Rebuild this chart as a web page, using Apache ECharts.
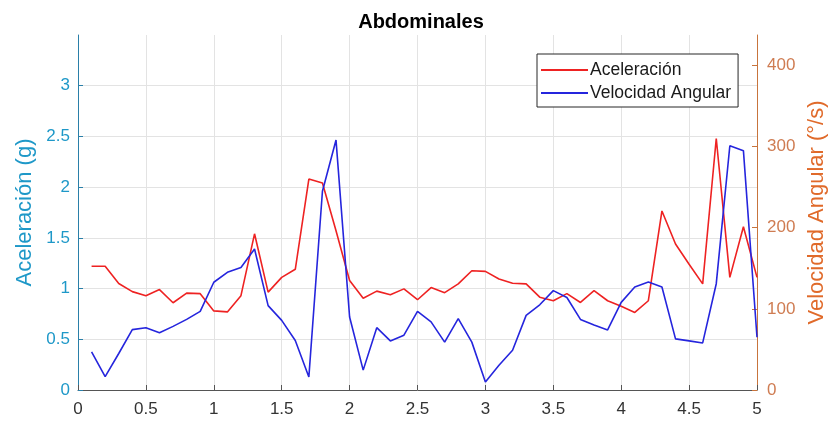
<!DOCTYPE html>
<html>
<head>
<meta charset="utf-8">
<script src="https://cdn.jsdelivr.net/npm/echarts@6/dist/echarts.min.js"></script>
<style>
html,body{margin:0;padding:0;background:#fff;}
#chart{width:835px;height:425px;}
</style>
</head>
<body>
<div id="chart"></div>
<script>
// Time (s)
var tiempo = [0.1,0.2,0.3,0.4,0.5,0.6,0.7,0.8,0.9,1.0,
              1.1,1.2,1.3,1.4,1.5,1.6,1.7,1.8,1.9,2.0,
              2.1,2.2,2.3,2.4,2.5,2.6,2.7,2.8,2.9,3.0,
              3.1,3.2,3.3,3.4,3.5,3.6,3.7,3.8,3.9,4.0,
              4.1,4.2,4.3,4.4,4.5,4.6,4.7,4.8,4.9,5.0];
// Aceleración (g)
var aceleracion = [1.22,1.22,1.05,0.97,0.93,0.99,0.86,0.955,0.95,0.78,
                   0.77,0.93,1.54,0.965,1.11,1.19,2.08,2.04,1.57,1.08,
                   0.905,0.975,0.94,0.997,0.89,1.01,0.96,1.046,1.176,1.17,
                   1.095,1.052,1.046,0.915,0.88,0.95,0.863,0.98,0.88,0.825,
                   0.765,0.88,1.765,1.44,1.24,1.046,2.48,1.11,1.61,1.11];
// Velocidad Angular (°/s)
var velocidad = [47,16.4,45,74.4,76.8,70.6,78.4,87,96.9,132.8,
                 145,151,173.8,104,85.8,61,16,245,308,90,
                 24.5,76.8,60.5,67.5,97,84,59,88,59,10,
                 30.6,49,92,105,122.5,114,87,80,74,108,
                 127,133,127,63,60.5,58,131,301,295,65];

var leftTicks = {min:0, max:3.5, interval:0.5};
var rightTicks = {min:0, max:437.5, interval:100};
var xTicks = {min:0, max:5, interval:0.5};

function pairs(xs, ys){ return xs.map(function(x,i){return [x, ys[i]];}); }

var font = "'Liberation Sans', Arial, Helvetica, sans-serif";
var leftText = '#1e98c8';
var leftLine = '#2a7fa8';
var rightName = '#e06a2a';
var rightText = '#cf7c52';
var rightLine = '#c8743c';

var chart = echarts.init(document.getElementById('chart'), null, {renderer:'canvas'});
chart.setOption({
  animation:false,
  backgroundColor:'#ffffff',
  title:{
    text:'Abdominales', left:416, top:7, textAlign:'center',
    textStyle:{fontFamily:font, fontSize:20, fontWeight:'bold', color:'#000'}
  },
  legend:{
    left:537, top:54, orient:'vertical',
    backgroundColor:'#fff', borderColor:'#262626', borderWidth:1,
    padding:[7,7,5,4], itemGap:5,
    itemWidth:47, itemHeight:2,
    textStyle:{fontFamily:font, fontSize:17.5, lineHeight:18, color:'#1a1a1a', padding:[0,0,0,-3]},
    data:[{name:'Aceleración', icon:'rect'},{name:'Velocidad Angular', icon:'rect'}]
  },
  grid:{left:78, right:78, top:35, bottom:35, containLabel:false, outerBoundsMode:'none'},
  xAxis:{
    type:'value', min:xTicks.min, max:xTicks.max, interval:xTicks.interval,
    axisLine:{show:true, onZero:false, lineStyle:{color:'#555', width:1}},
    axisTick:{show:true, inside:true, length:5, lineStyle:{color:'#555'}},
    axisLabel:{fontFamily:font, fontSize:17, color:'#333', margin:11},
    splitLine:{show:true, lineStyle:{color:'#e3e3e3', width:1}}
  },
  yAxis:[{
    type:'value', min:leftTicks.min, max:leftTicks.max, interval:leftTicks.interval,
    name:'Aceleración (g)', nameLocation:'middle', nameGap:37,
    nameTextStyle:{fontFamily:font, fontSize:22, color:leftText},
    axisLine:{show:true, lineStyle:{color:leftLine, width:1}},
    axisTick:{show:true, inside:true, length:5, lineStyle:{color:leftLine}},
    axisLabel:{fontFamily:font, fontSize:17, color:leftText, margin:8, showMaxLabel:false},
    splitLine:{show:true, showMaxLine:false, lineStyle:{color:'#e3e3e3', width:1}}
  },{
    type:'value', min:rightTicks.min, max:rightTicks.max, interval:rightTicks.interval,
    position:'right',
    name:'Velocidad Angular (°/s)', nameLocation:'middle', nameGap:47, nameRotate:90,
    nameTextStyle:{fontFamily:font, fontSize:22, color:rightName},
    axisLine:{show:true, lineStyle:{color:rightLine, width:1}},
    axisTick:{show:true, inside:true, length:5, lineStyle:{color:rightLine}},
    axisLabel:{fontFamily:font, fontSize:17, color:rightText, margin:10, showMaxLabel:false},
    splitLine:{show:false}
  }],
  series:[{
    name:'Aceleración', type:'line', yAxisIndex:0,
    data:pairs(tiempo, aceleracion), showSymbol:false,
    lineStyle:{color:'#ee2222', width:1.6}, itemStyle:{color:'#ee2222'}
  },{
    name:'Velocidad Angular', type:'line', yAxisIndex:1,
    data:pairs(tiempo, velocidad), showSymbol:false,
    lineStyle:{color:'#2525dd', width:1.6}, itemStyle:{color:'#2525dd'}
  }]
});
</script>
</body>
</html>
